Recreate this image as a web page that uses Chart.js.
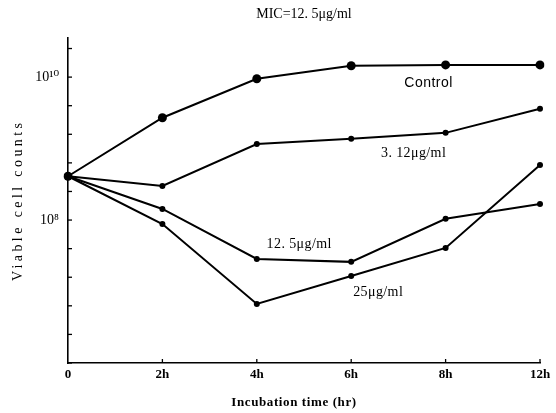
<!DOCTYPE html>
<html>
<head>
<meta charset="utf-8">
<script src="https://cdn.jsdelivr.net/npm/chart.js@4/dist/chart.umd.min.js"></script>
<style>
  html, body { margin: 0; padding: 0; background: #fff; }
  #wrap { width: 556px; height: 413px; }
</style>
</head>
<body>
<div id="wrap"><canvas id="c"></canvas></div>
<script>
// ---- data ----
const categories = ['0', '2h', '4h', '6h', '8h', '12h'];
const control   = [4.1e8, 2.7e9, 9.5e9, 1.44e10, 1.48e10, 1.48e10];
const mic312    = [4.1e8, 3.0e8, 1.16e9, 1.37e9, 1.66e9, 3.6e9];
const mic125    = [4.1e8, 1.43e8, 2.86e7, 2.6e7, 1.04e8, 1.68e8];
const mic25     = [4.1e8, 8.8e7, 6.7e6, 1.65e7, 4.07e7, 5.9e8];
const seriesNames = ['Control', '3. 12\u03bcg/ml', '12. 5\u03bcg/ml', '25\u03bcg/ml'];
const yTickValues = [1e6, 10**6.4, 10**6.8, 10**7.2, 10**7.6, 1e8, 10**8.4, 10**8.8, 10**9.2, 10**9.6, 1e10, 10**10.4];
const yTickLabels = { 1e8: '10\u2078', 1e10: '10\u00b9\u2070' };
const titleText = 'MIC=12. 5\u03bcg/ml';
const xTitle = 'Incubation time (hr)';
const yTitle = 'Viable cell counts';

// ---- styles ----
const SERIF = '"Liberation Serif", "DejaVu Serif", serif';
const SANS = '"Liberation Sans", Arimo, sans-serif';
const labelPlacement = [
  { index: 4, dx: -17, dy: 18, font: '14px ' + SANS, spacing: '0.5px' },
  { index: 4, dx: -32, dy: 20, font: '14px ' + SERIF, spacing: '0.4px' },
  { index: 3, dx: -52, dy: -18, font: '14px ' + SERIF, spacing: '0.4px' },
  { index: 3, dx: 27, dy: 16, font: '14px ' + SERIF, spacing: '0.4px' }
];

const decorations = {
  id: 'decorations',
  afterDraw(chart) {
    const ctx = chart.ctx;
    const xs = chart.scales.x, ys = chart.scales.y;
    const area = chart.chartArea;
    ctx.save();
    ctx.strokeStyle = '#000';
    ctx.lineWidth = 1.3;
    // inward ticks on y
    ys.ticks.forEach(t => {
      const y = ys.getPixelForValue(t.value);
      ctx.beginPath(); ctx.moveTo(area.left, y); ctx.lineTo(area.left + 4, y); ctx.stroke();
    });
    // inward ticks on x
    categories.forEach((c, i) => {
      if (i === 0) return;
      const x = xs.getPixelForValue(i);
      ctx.beginPath(); ctx.moveTo(x, area.bottom); ctx.lineTo(x, area.bottom - 4); ctx.stroke();
    });
    // series labels
    ctx.fillStyle = '#000';
    ctx.textAlign = 'center';
    ctx.textBaseline = 'middle';
    const data = [control, mic312, mic125, mic25];
    labelPlacement.forEach((p, k) => {
      ctx.font = p.font;
      ctx.letterSpacing = p.spacing;
      const x = xs.getPixelForValue(p.index) + p.dx;
      const y = ys.getPixelForValue(data[k][p.index]) + p.dy;
      ctx.fillText(seriesNames[k], x, y);
    });
    // axis titles
    ctx.font = 'bold 13px ' + SERIF;
    ctx.letterSpacing = '0.6px';
    ctx.fillText(xTitle, (area.left + area.right) / 2 - 10, 403);
    ctx.save();
    ctx.translate(18, (area.top + area.bottom) / 2);
    ctx.rotate(-Math.PI / 2);
    ctx.font = '14px ' + SERIF;
    ctx.letterSpacing = '3.4px';
    ctx.fillText(yTitle, 0, 0);
    ctx.restore();
    ctx.restore();
  }
};

function ds(data, r) {
  return {
    data: data,
    borderColor: '#000',
    backgroundColor: '#000',
    borderWidth: 2,
    pointRadius: r,
    pointHoverRadius: r,
    pointBorderWidth: 0,
    tension: 0
  };
}

new Chart(document.getElementById('c'), {
  type: 'line',
  data: {
    labels: categories,
    datasets: [ds(control, 4.5), ds(mic312, 3), ds(mic125, 3), ds(mic25, 3)]
  },
  options: {
    responsive: true,
    maintainAspectRatio: false,
    animation: false,
    layout: { padding: { left: 0, right: 16, top: 0, bottom: 0 } },
    plugins: {
      legend: { display: false },
      tooltip: { enabled: false },
      title: {
        display: true,
        text: titleText,
        fullSize: false,
        color: '#000',
        font: { family: SERIF, size: 14, weight: 'normal', lineHeight: 1.2 },
        padding: { top: 6, bottom: 15 }
      }
    },
    scales: {
      x: {
        type: 'category',
        offset: false,
        grid: { display: false, drawTicks: false },
        border: { display: true, color: '#000', width: 1.6 },
        ticks: {
          color: '#000',
          padding: 4,
          maxRotation: 0,
          font: { family: SERIF, size: 13, weight: 'bold' }
        },
        afterFit(s) { s.height = 50; }
      },
      y: {
        type: 'logarithmic',
        min: 1e6,
        max: 10 ** 10.55,
        grid: { display: false, drawTicks: false },
        border: { display: true, color: '#000', width: 1.6 },
        afterBuildTicks(s) { s.ticks = yTickValues.map(v => ({ value: v })); },
        ticks: {
          color: '#000',
          padding: 9,
          autoSkip: false,
          font: { family: SERIF, size: 14 },
          callback(v) {
            for (const k in yTickLabels) {
              if (Math.abs(Math.log10(v) - Math.log10(+k)) < 1e-6) return yTickLabels[k];
            }
            return '';
          }
        },
        afterFit(s) { s.width = 68; }
      }
    }
  },
  plugins: [decorations]
});
</script>
</body>
</html>
